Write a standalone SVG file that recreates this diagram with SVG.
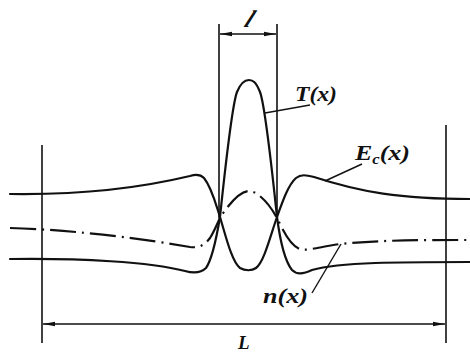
<svg xmlns="http://www.w3.org/2000/svg" width="470" height="354" viewBox="0 0 470 354">
<style>
.c{fill:none;stroke:#111;stroke-width:2.2;stroke-linecap:round;stroke-linejoin:round}
.dd{stroke-dasharray:26 6 2 6;stroke-linecap:butt}
.ln{fill:none;stroke:#111;stroke-width:1.6}
.ld{fill:none;stroke:#111;stroke-width:1.4}
.t{font-family:"Liberation Serif","Times New Roman",serif;font-style:italic;font-weight:bold;fill:#111}
</style>
<defs>
<marker id="ah" viewBox="0 0 12 6" refX="12" refY="3" markerWidth="12" markerHeight="6" markerUnits="userSpaceOnUse" orient="auto-start-reverse">
<path d="M0,0.8 L12,3 L0,5.2 Z" fill="#111"/>
</marker>
</defs>
<rect width="470" height="354" fill="#fff"/>
<g id="connectors">
<line class="ln" x1="42" y1="145" x2="42" y2="343"/>
<line class="ln" x1="446" y1="125" x2="446" y2="343"/>
<line class="ln" x1="219" y1="24" x2="219" y2="218"/>
<line class="ln" x1="277" y1="24" x2="277" y2="218"/>
<line class="ln" x1="220" y1="34" x2="276" y2="34" marker-start="url(#ah)" marker-end="url(#ah)"/>
<line class="ln" x1="43" y1="324" x2="445" y2="324" marker-start="url(#ah)" marker-end="url(#ah)"/>
<line class="ld" x1="265" y1="113" x2="310" y2="105"/>
<line class="ld" x1="325" y1="181" x2="362" y2="164"/>
<line class="ld" x1="341" y1="244" x2="312" y2="293"/>
</g>
<g id="Ec">
<path class="c" d="M10,194 C80,195 140,188 190,176 C196,174 200,174 204,178 C212,188 216,205 220,217 C226,237 232,262 240,268 C245,271 252,271 256,268 C264,262 270,237 277,217 C282,203 288,185 296,178 C301,174 306,175 314,177 C360,192 400,199 470,199"/>
<text class="t" x="355" y="160" font-size="22" textLength="55" lengthAdjust="spacingAndGlyphs">E<tspan font-size="14" dy="4">c</tspan><tspan dy="-4">(x)</tspan></text>
</g>
<g id="T">
<path class="c" d="M10,259 C80,258 150,262 185,271 C192,273 200,274 206,268 C213,258 217,235 220,217 C226,160 232,105 237,92 C241,82 245,80 249,80 C253,80 256,82 260,92 C265,105 271,160 277,217 C280,240 284,260 292,270 C297,275 303,274 312,270 C340,262 400,262 470,262"/>
<text class="t" x="295" y="101" font-size="21" textLength="42" lengthAdjust="spacingAndGlyphs">T(x)</text>
</g>
<g id="n">
<path class="c dd" d="M10,228 C80,230 150,240 190,247 C198,248 204,246 210,238 C214,232 217,224 220,218 C228,205 240,191 249,191 C258,191 270,205 277,218 C283,230 290,246 300,249 C306,251 315,248 340,244 C380,240 420,240 470,240"/>
<text class="t" x="263" y="303" font-size="21" textLength="45" lengthAdjust="spacingAndGlyphs">n(x)</text>
</g>
<g id="dims">
<text class="t" transform="translate(243,27) skewX(-25)" font-size="24">l</text>
<text class="t" x="238" y="349" font-size="19">L</text>
</g>
</svg>
